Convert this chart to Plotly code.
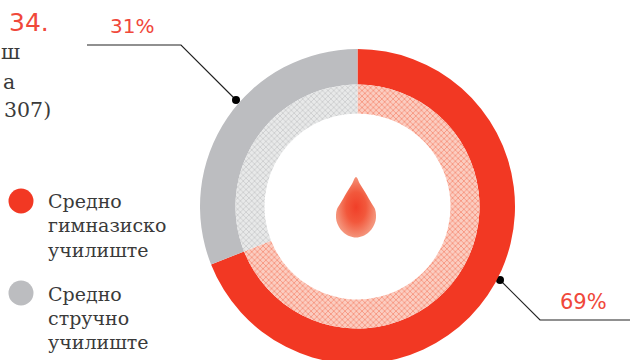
import plotly.graph_objects as go

# ---- data ----
categories = ["Средно гимназиско училиште", "Средно стручно училиште"]
values = [69, 31]
value_labels = ["69%", "31%"]
outer_colors = ["#f23823", "#bcbdc0"]
legend_lines = [["Средно", "гимназиско", "училиште"], ["Средно", "стручно", "училиште"]]
legend_circle_y = [201, 293]
legend_line_y = [[201, 225, 250], [294, 318, 342]]
cut_text = [("ш", 22, 52), ("а", 17, 82), ("307)", 53, 110)]
leader_69_x = [500, 540, 630]
leader_69_y = [280, 320, 320]
leader_31_x = [236, 181, 87]
leader_31_y = [100, 45, 45]
drop_x = [356, 352, 347, 343, 340, 337, 336, 336.5, 339, 343, 349, 356, 363, 369, 373, 375.5, 376, 375, 372, 369, 365, 360, 356]
drop_y = [177, 184, 192, 199, 204, 209, 215, 221, 227, 232, 236, 237.5, 236, 232, 227, 221, 215, 209, 204, 199, 192, 184, 177]

W, H = 630, 372
CX, CY = 357.5, 206.5
R1, R2, R3 = 157.5, 122, 93
RED_TXT = "#f0483a"
INK = "#3a3a3a"
SERIF = "DejaVu Serif"

def dom(r):
    return dict(x=[(CX - r) / W, (CX + r) / W], y=[1 - (CY + r) / H, 1 - (CY - r) / H])

fig = go.Figure()
fig.add_trace(go.Pie(labels=categories, values=values, sort=False, direction="clockwise", rotation=0,
                     hole=R2 / R1, domain=dom(R1), textinfo="none", hoverinfo="label+percent",
                     marker=dict(colors=outer_colors, line=dict(width=0)), showlegend=False))
fig.add_trace(go.Pie(labels=categories, values=values, sort=False, direction="clockwise", rotation=0,
                     hole=R3 / R2, domain=dom(R2), textinfo="none", hoverinfo="label+percent",
                     marker=dict(colors=["#f8b09e", "#dcddde"], line=dict(width=0),
                                 pattern=dict(shape="x", size=4, solidity=0.35,
                                              fgcolor=["#f78c74", "#c8c9cb"],
                                              bgcolor=["#fbcdc1", "#e8e9e9"], fillmode="replace")),
                     showlegend=False))

# drop
fig.add_trace(go.Scatter(x=drop_x, y=drop_y, mode="lines", line=dict(width=0, shape="spline"), fill="toself",
                         fillgradient=dict(type="radial",
                                           colorscale=[[0, "#f03f28"], [0.5, "#f2583c"], [1, "#f4937a"]]),
                         hoverinfo="skip", showlegend=False))

# leaders
for xs, ys in [(leader_69_x, leader_69_y), (leader_31_x, leader_31_y)]:
    fig.add_trace(go.Scatter(x=xs, y=ys, mode="lines", line=dict(color="#222", width=1.2),
                             hoverinfo="skip", showlegend=False))
    fig.add_trace(go.Scatter(x=xs[:1], y=ys[:1], mode="markers", marker=dict(color="#000", size=8),
                             hoverinfo="skip", showlegend=False))

# legend markers
fig.add_trace(go.Scatter(x=[21, 21], y=legend_circle_y, mode="markers",
                         marker=dict(color=outer_colors, size=25, line=dict(width=0)),
                         hoverinfo="skip", showlegend=False))

ann = []
def T(text, x, y, size, color, family, anchor="left"):
    ann.append(dict(text=text, x=x, y=y, xref="x", yref="y", showarrow=False, xanchor=anchor, yanchor="middle",
                    font=dict(size=size, color=color, family=family)))

T("34.", 7, 22, 25, RED_TXT, "DejaVu Sans")
T(value_labels[1], 132, 26, 20, RED_TXT, "DejaVu Sans", "center")
T(value_labels[0], 583, 302, 21, RED_TXT, "DejaVu Sans", "center")
for t, x, y in cut_text:
    T(t, x, y, 20.5, INK, SERIF, "right")
for lines, ys in zip(legend_lines, legend_line_y):
    for t, y in zip(lines, ys):
        T(t, 46, y, 19, INK, SERIF)

fig.update_layout(width=W, height=H, margin=dict(l=0, r=0, t=0, b=0), paper_bgcolor="white", plot_bgcolor="rgba(0,0,0,0)",
                  xaxis=dict(range=[0, W], visible=False, fixedrange=True),
                  yaxis=dict(range=[H, 0], visible=False, fixedrange=True),
                  annotations=ann)
fig.write_html("out.html", config={"displayModeBar": False},
               post_script="document.documentElement.style.overflow='hidden';document.body.style.overflow='hidden';document.body.style.margin='0';")
